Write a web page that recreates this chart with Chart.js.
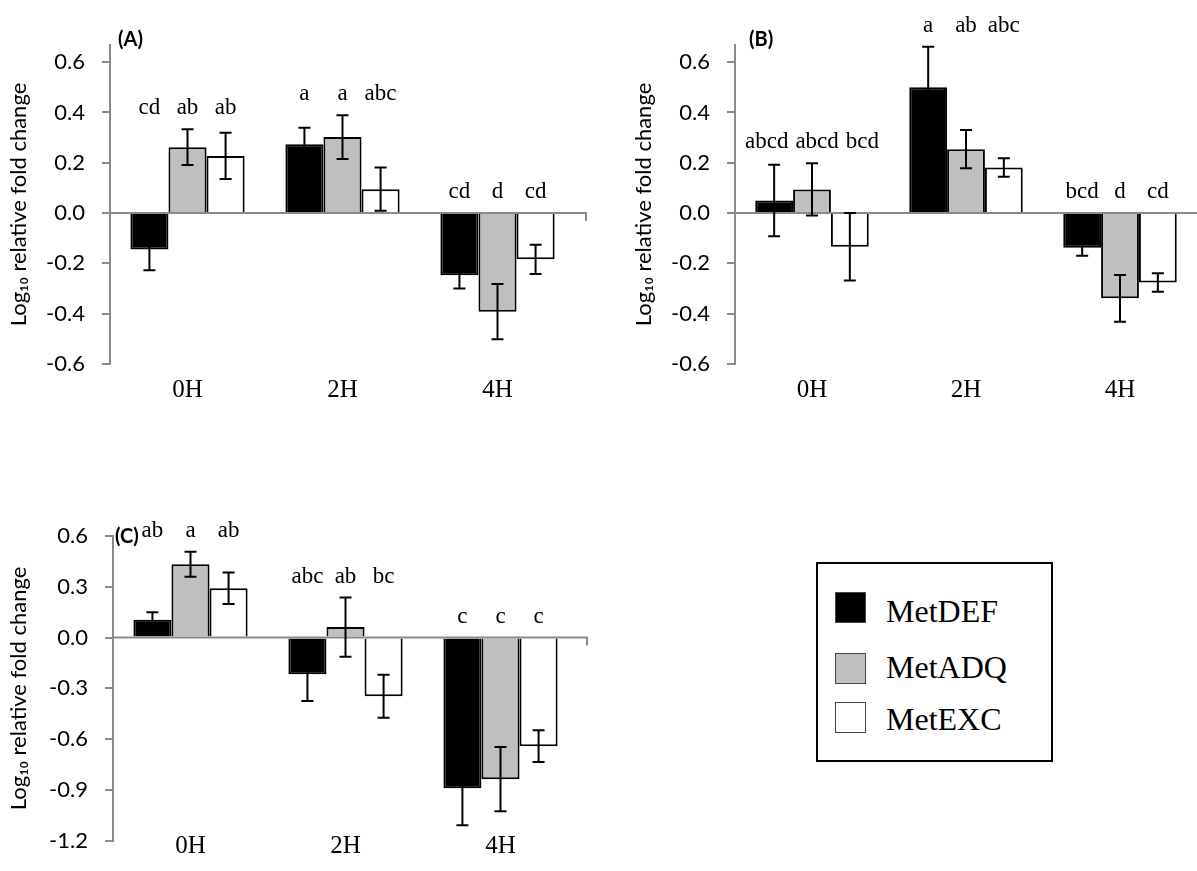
<!DOCTYPE html>
<html>
<head>
<meta charset="utf-8">
<script src="https://cdn.jsdelivr.net/npm/chart.js@4.4.1/dist/chart.umd.min.js"></script>
<style>
  body { margin: 0; background: #fff; width: 1197px; height: 871px; position: relative; overflow: hidden; }
  canvas { position: absolute; }
  .tag { position: absolute; font: bold 20px Lato, sans-serif; line-height: 20px; }
  #legend { position: absolute; left: 816px; top: 562px; width: 233px; height: 196px; border: 2px solid #000; }
  #legend .sw { position: absolute; left: 17px; width: 29px; height: 29px; border: 1.5px solid #444; }
  #legend .lb { position: absolute; left: 68px; font: 32px "Liberation Serif", serif; line-height: 32px; }
</style>
</head>
<body>
<canvas id="chartA" width="600" height="430" style="left:0;top:0"></canvas>
<canvas id="chartB" width="572" height="430" style="left:625px;top:0"></canvas>
<canvas id="chartC" width="600" height="441" style="left:0;top:430px"></canvas>
<div class="tag" style="left:118px;top:28px">(A)</div>
<div class="tag" style="left:749px;top:28px">(B)</div>
<div class="tag" style="left:115px;top:525px">(C)</div>
<div id="legend"></div>

<script>
const hours = ["0H", "2H", "4H"];
const seriesNames = ["MetDEF", "MetADQ", "MetEXC"];
const seriesColors = ["#000000", "#bfbfbf", "#ffffff"];

// panel A
const aDef = [-0.145, 0.273, -0.247];
const aDefErr = [0.082, 0.066, 0.053];
const aAdq = [0.262, 0.302, -0.392];
const aAdqErr = [0.071, 0.087, 0.11];
const aExc = [0.227, 0.095, -0.184];
const aExcErr = [0.092, 0.086, 0.058];
const aDefLetters = ["cd", "a", "cd"];
const aAdqLetters = ["ab", "a", "d"];
const aExcLetters = ["ab", "abc", "cd"];

// panel B
const bDef = [0.05, 0.5, -0.138];
const bDefErr = [0.142, 0.161, 0.032];
const bAdq = [0.094, 0.254, -0.339];
const bAdqErr = [0.104, 0.076, 0.093];
const bExc = [-0.134, 0.181, -0.276];
const bExcErr = [0.134, 0.037, 0.037];
const bDefLetters = ["abcd", "a", "bcd"];
const bAdqLetters = ["abcd", "ab", "d"];
const bExcLetters = ["bcd", "abc", "cd"];

// panel C
const cDef = [0.106, -0.217, -0.89];
const cDefErr = [0.043, 0.157, 0.218];
const cAdq = [0.433, 0.062, -0.836];
const cAdqErr = [0.074, 0.175, 0.19];
const cExc = [0.291, -0.346, -0.641];
const cExcErr = [0.093, 0.127, 0.094];
const cDefLetters = ["ab", "abc", "c"];
const cAdqLetters = ["a", "ab", "c"];
const cExcLetters = ["ab", "bc", "c"];

const ticksAB = [-0.6, -0.4, -0.2, 0.0, 0.2, 0.4, 0.6];
const ticksC = [-1.2, -0.9, -0.6, -0.3, 0.0, 0.3, 0.6];

const AXIS_GRAY = "#8a8a8a";

// zero line, error bars and significance letters
const panelExtras = {
    id: "panelExtras",
    afterDatasetsDraw(chart, args, opts) {
        const ctx = chart.ctx;
        const y = chart.scales.y;
        const area = chart.chartArea;
        const y0 = y.getPixelForValue(0);
        ctx.save();
        ctx.strokeStyle = AXIS_GRAY;
        ctx.lineWidth = 2;
        ctx.beginPath();
        ctx.moveTo(area.left, y0);
        ctx.lineTo(opts.lineEnd, y0);
        ctx.stroke();
        if (opts.endTick) {
            ctx.beginPath();
            ctx.moveTo(opts.lineEnd - 1, y0);
            ctx.lineTo(opts.lineEnd - 1, y0 + 8);
            ctx.stroke();
        }

        ctx.strokeStyle = "#000";
        ctx.lineWidth = 2;
        chart.data.datasets.forEach((ds, i) => {
            chart.getDatasetMeta(i).data.forEach((bar, j) => {
                const top = y.getPixelForValue(ds.data[j] + ds.errors[j]);
                const bot = y.getPixelForValue(ds.data[j] - ds.errors[j]);
                ctx.beginPath();
                ctx.moveTo(bar.x, top);
                ctx.lineTo(bar.x, bot);
                ctx.moveTo(bar.x - 6, top);
                ctx.lineTo(bar.x + 6, top);
                ctx.moveTo(bar.x - 6, bot);
                ctx.lineTo(bar.x + 6, bot);
                ctx.stroke();
            });
        });

        ctx.font = '23px "Liberation Serif", serif';
        ctx.fillStyle = "#000";
        ctx.textAlign = "center";
        ctx.textBaseline = "middle";
        const gap = 7;
        chart.data.labels.forEach((lab, j) => {
            let topPx = y0;
            const items = chart.data.datasets.map((ds, i) => {
                const bar = chart.getDatasetMeta(i).data[j];
                topPx = Math.min(topPx, y.getPixelForValue(ds.data[j] + ds.errors[j]));
                return { x: bar.x, text: ds.letters[j], w: ctx.measureText(ds.letters[j]).width };
            });
            let crowded = false;
            for (let k = 1; k < items.length; k++) {
                if (items[k].x - items[k - 1].x < (items[k].w + items[k - 1].w) / 2 + gap) crowded = true;
            }
            if (crowded) {
                const total = items.reduce((s, it) => s + it.w, 0) + gap * (items.length - 1);
                let cx = (items[0].x + items[items.length - 1].x) / 2 - total / 2;
                items.forEach(it => { it.x = cx + it.w / 2; cx += it.w + gap; });
            }
            items.forEach(it => ctx.fillText(it.text, it.x, topPx - 21));
        });
        ctx.restore();
    }
};

function makeSet(i, values, errors, letters) {
    return {
        label: seriesNames[i],
        data: values,
        errors: errors,
        letters: letters,
        backgroundColor: seriesColors[i],
        borderColor: "#000",
        borderWidth: 2,
        categoryPercentage: 0.737,
        barPercentage: 1
    };
}

function makePanel(id, sets, tickVals, yMin, yMax, box) {
    new Chart(document.getElementById(id), {
        type: "bar",
        data: { labels: hours, datasets: sets },
        plugins: [panelExtras],
        options: {
            responsive: false,
            animation: false,
            layout: { padding: { top: box.top, right: box.right, left: 0, bottom: 0 } },
            plugins: {
                legend: { display: false },
                tooltip: { enabled: false },
                panelExtras: { lineEnd: box.lineEnd, endTick: box.endTick }
            },
            scales: {
                x: {
                    grid: { display: false, drawTicks: false },
                    border: { display: false },
                    ticks: {
                        color: "#000",
                        mirror: box.mirror,
                        padding: box.labelPad,
                        font: { family: "Liberation Serif", size: 25 }
                    },
                    afterFit(s) { s.height = box.xHeight; }
                },
                y: {
                    min: yMin,
                    max: yMax,
                    afterBuildTicks(s) { s.ticks = tickVals.map(v => ({ value: v })); },
                    grid: { drawOnChartArea: false, tickLength: 8, tickColor: AXIS_GRAY, lineWidth: 2 },
                    border: { color: AXIS_GRAY, width: 2 },
                    ticks: {
                        color: "#000",
                        padding: 17,
                        font: { family: "Lato", size: 22 },
                        callback: v => v.toFixed(1)
                    },
                    title: {
                        display: true,
                        text: "Log\u2081\u2080 relative fold change",
                        color: "#000",
                        font: { family: "Lato", size: 22 },
                        padding: { top: 6, bottom: 0 }
                    },
                    afterFit(s) { s.width = box.yWidth; }
                }
            }
        }
    });
}

makePanel("chartA", [
    makeSet(0, aDef, aDefErr, aDefLetters),
    makeSet(1, aAdq, aAdqErr, aAdqLetters),
    makeSet(2, aExc, aExcErr, aExcLetters)
], ticksAB, -0.6, 0.668, { top: 45, right: 25, yWidth: 110, xHeight: 66, labelPad: 11, mirror: false, lineEnd: 587, endTick: true });

makePanel("chartB", [
    makeSet(0, bDef, bDefErr, bDefLetters),
    makeSet(1, bAdq, bAdqErr, bAdqLetters),
    makeSet(2, bExc, bExcErr, bExcLetters)
], ticksAB, -0.6, 0.668, { top: 45, right: 0, yWidth: 110, xHeight: 66, labelPad: 11, mirror: false, lineEnd: 572, endTick: false });

makePanel("chartC", [
    makeSet(0, cDef, cDefErr, cDefLetters),
    makeSet(1, cAdq, cAdqErr, cAdqLetters),
    makeSet(2, cExc, cExcErr, cExcLetters)
], ticksC, -1.2, 0.6, { top: 106, right: 22, yWidth: 113, xHeight: 18, labelPad: -21, mirror: true, lineEnd: 588, endTick: true });

// legend box
const legend = document.getElementById("legend");
const swatchTops = [28, 89, 138];
const labelTops = [31, 87, 139];
seriesNames.forEach((name, i) => {
    const sw = document.createElement("div");
    sw.className = "sw";
    sw.style.top = swatchTops[i] + "px";
    sw.style.background = seriesColors[i];
    legend.appendChild(sw);
    const lb = document.createElement("div");
    lb.className = "lb";
    lb.style.top = labelTops[i] + "px";
    lb.textContent = name;
    legend.appendChild(lb);
});
</script>
</body>
</html>
